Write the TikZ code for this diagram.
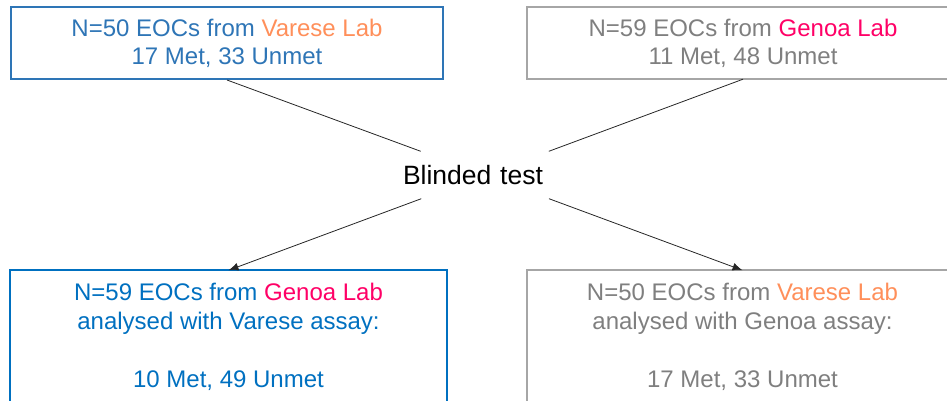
\documentclass[tikz,border=0pt]{standalone}
\usepackage{fontspec}
\setmainfont{Liberation Sans}
\usetikzlibrary{arrows.meta}
\definecolor{labblue}{RGB}{46,117,182}
\definecolor{assayblue}{RGB}{0,112,192}
\definecolor{labgray}{RGB}{127,127,127}
\definecolor{framegray}{RGB}{166,166,166}
\definecolor{vareseorange}{RGB}{255,143,90}
\definecolor{genoapink}{RGB}{255,0,102}
\begin{document}
\begin{tikzpicture}[x=1pt,y=-1pt,
  labbox/.style={minimum width=432pt,inner sep=0pt,align=center,font=\fontsize{24}{28}\selectfont},
  resbox/.style={labbox,minimum height=133pt,font=\fontsize{24}{29}\selectfont},
  frame/.style={line width=2pt},
  link/.style={draw=black!85,line width=0.8pt},
  arrowlink/.style={link,-{Latex[length=10pt,width=8pt]}}]
\useasboundingbox (0,0) rectangle (947,401);
\coordinate (pageright) at (947,0);
\coordinate (pagebottom) at (0,401);
\node[labbox,draw=labblue,frame,text=labblue,minimum height=72pt] (varese) at (227,43)
  {N=50 EOCs from \textcolor{vareseorange}{Varese Lab}\\17 Met, 33 Unmet};
\node[labbox,text=labgray,minimum height=72pt] (genoa) at (743,43)
  {N=59 EOCs from \textcolor{genoapink}{Genoa Lab}\\11 Met, 48 Unmet};
\node[font=\fontsize{26.5}{30}\selectfont,text width=164pt,align=left,minimum height=47pt,inner sep=0pt] (blind) at (485,175)
  {Blinded test};
\node[resbox,text=assayblue,minimum width=437pt] (genoares) at (228.5,337)
  {N=59 EOCs from \textcolor{genoapink}{Genoa Lab}\\analysed with Varese assay:\\[29pt]10 Met, 49 Unmet};
\node[resbox,text=labgray,minimum width=431pt] (vareseres) at (742.5,337)
  {N=50 EOCs from \textcolor{vareseorange}{Varese Lab}\\analysed with Genoa assay:\\[29pt]17 Met, 33 Unmet};
\draw[frame,framegray] (genoa.north -| pageright) -- (genoa.north west) -- (genoa.south west) -- (genoa.south -| pageright);
\draw[frame,assayblue] (genoares.west |- pagebottom) -- (genoares.north west) -- (genoares.north east) -- (genoares.east |- pagebottom);
\draw[frame,framegray] (vareseres.west |- pagebottom) -- (vareseres.north west) -- (vareseres.north -| pageright);
\draw[link] (varese.south) -- (blind);
\draw[link] (genoa.south) -- (blind);
\draw[arrowlink] (blind) -- (genoares.north);
\draw[arrowlink] (blind) -- (vareseres.north);
\end{tikzpicture}
\end{document}
